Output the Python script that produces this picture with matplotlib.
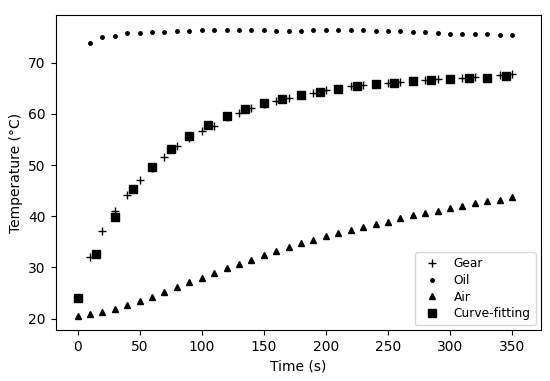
import matplotlib
matplotlib.use("Agg")
import matplotlib.pyplot as plt
import numpy as np

t_gear = [10, 20, 30, 40, 50, 60, 70, 80, 90, 100, 110, 120, 130, 140, 150, 160, 170, 180,
          190, 200, 210, 220, 230, 240, 250, 260, 270, 280, 290, 300, 310, 320, 330, 340, 350]
gear = [32.0, 37.1, 41.1, 44.1, 47.1, 49.5, 51.5, 53.7, 55.3, 56.7, 57.6, 59.3, 60.1, 61.15,
        61.9, 62.6, 63.05, 63.6, 64.0, 64.6, 64.9, 65.45, 65.7, 65.8, 66.1, 66.3, 66.4, 66.6,
        66.8, 66.9, 67.0, 67.2, 67.1, 67.6, 67.7]

t_oil = [10, 20, 30, 40, 50, 60, 70, 80, 90, 100, 110, 120, 130, 140, 150, 160, 170, 180,
         190, 200, 210, 220, 230, 240, 250, 260, 270, 280, 290, 300, 310, 320, 330, 340, 350]
oil = [73.8, 74.95, 75.3, 75.7, 75.8, 75.9, 76.05, 76.1, 76.25, 76.3, 76.3, 76.3, 76.4, 76.3,
       76.3, 76.25, 76.25, 76.25, 76.4, 76.4, 76.4, 76.3, 76.3, 76.1, 76.1, 76.1, 76.0, 76.0,
       75.86, 75.67, 75.6, 75.6, 75.54, 75.35, 75.4]

t_air = [0, 10, 20, 30, 40, 50, 60, 70, 80, 90, 100, 110, 120, 130, 140, 150, 160, 170, 180,
         190, 200, 210, 220, 230, 240, 250, 260, 270, 280, 290, 300, 310, 320, 330, 340, 350]
air = [20.6, 20.86, 21.25, 21.9, 22.6, 23.5, 24.3, 25.3, 26.25, 27.2, 28.0, 28.9, 29.9, 30.7,
       31.5, 32.4, 33.3, 33.95, 34.7, 35.4, 36.2, 36.8, 37.3, 37.97, 38.5, 38.95, 39.7, 40.2,
       40.7, 41.05, 41.6, 41.95, 42.5, 42.9, 43.2, 43.7]

t_fit = [0, 15, 30, 45, 60, 75, 90, 105, 120, 135, 150, 165, 180, 195, 210, 225, 240, 255,
         270, 285, 300, 315, 330, 345]
fit = [24.1, 32.7, 39.8, 45.3, 49.6, 53.1, 55.7, 57.8, 59.5, 61.0, 62.1, 62.9, 63.7, 64.3,
       64.9, 65.5, 65.8, 66.1, 66.4, 66.7, 66.9, 67.0, 67.1, 67.3]

fig = plt.figure(figsize=(5.5, 3.81), dpi=100)
ax = fig.add_axes([0.101, 0.134, 0.882, 0.826])

ax.plot(t_gear, gear, linestyle='none', marker='+', color='black', ms=5.5, mew=1.0, label='Gear')
ax.plot(t_oil, oil, linestyle='none', marker='.', color='black', ms=5, label='Oil')
ax.plot(t_air, air, linestyle='none', marker='^', color='black', ms=4.5, label='Air')
ax.plot(t_fit, fit, linestyle='none', marker='s', color='black', ms=5.2, label='Curve-fitting')

ax.set_xlim(-17.7, 373)
ax.set_ylim(17.8, 79.26)
ax.set_xticks(np.arange(0, 351, 50))
ax.set_yticks(np.arange(20, 71, 10))
ax.tick_params(labelsize=10)

ax.set_xlabel('Time (s)', fontsize=10)
ax.set_ylabel('Temperature (°C)', fontsize=10)
ax.legend(loc='lower right', fontsize=8.8, labelspacing=0.3, borderaxespad=0.4)

fig.savefig('out.png', dpi=100)
